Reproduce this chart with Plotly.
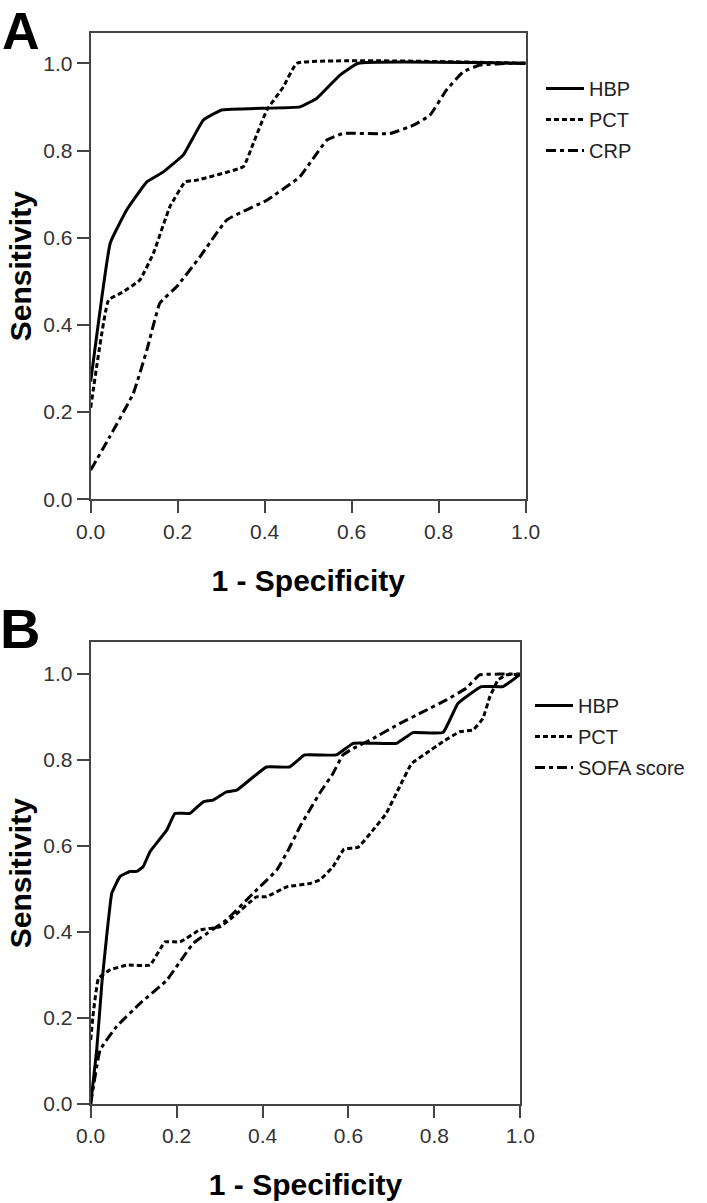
import plotly.graph_objects as go

W, H = 707, 1203

# ---------------- Panel A data ----------------
a_hbp_x = [0.0, 0.045, 0.083, 0.129, 0.167, 0.213, 0.259, 0.301, 0.481, 0.52, 0.573, 0.615, 1.0]
a_hbp_y = [0.27, 0.588, 0.664, 0.728, 0.751, 0.790, 0.870, 0.893, 0.900, 0.92, 0.973, 1.0, 1.0]

a_pct_x = [0.0, 0.041, 0.075, 0.113, 0.144, 0.182, 0.217, 0.244, 0.351, 0.374, 0.405, 0.443, 0.474, 1.0]
a_pct_y = [0.21, 0.457, 0.476, 0.503, 0.564, 0.671, 0.728, 0.732, 0.763, 0.817, 0.893, 0.946, 1.0, 1.0]

a_crp_x = [0.0, 0.044, 0.098, 0.129, 0.159, 0.198, 0.251, 0.313, 0.405, 0.481, 0.543, 0.58, 0.688, 0.742, 0.78, 0.818, 0.857, 0.895, 0.97, 1.0]
a_crp_y = [0.067, 0.144, 0.243, 0.342, 0.45, 0.488, 0.556, 0.641, 0.686, 0.74, 0.824, 0.839, 0.839, 0.858, 0.881, 0.939, 0.981, 0.996, 1.0, 1.0]

# ---------------- Panel B data ----------------
b_hbp_x = [0.0, 0.014, 0.026, 0.037, 0.049, 0.068, 0.091, 0.107, 0.122, 0.138, 0.177, 0.196, 0.231, 0.262,
           0.285, 0.316, 0.34, 0.409, 0.463, 0.498, 0.572, 0.611, 0.712, 0.75, 0.82, 0.855, 0.909, 0.96, 1.0]
b_hbp_y = [0.0, 0.126, 0.281, 0.389, 0.49, 0.529, 0.541, 0.541, 0.552, 0.587, 0.637, 0.676, 0.676, 0.703,
           0.707, 0.726, 0.73, 0.784, 0.784, 0.812, 0.812, 0.839, 0.839, 0.864, 0.864, 0.932, 0.971, 0.971, 1.0]

b_pct_x = [0.0, 0.006, 0.018, 0.045, 0.084, 0.138, 0.173, 0.208, 0.254, 0.301, 0.332, 0.386, 0.409, 0.456,
           0.51, 0.533, 0.564, 0.59, 0.622, 0.657, 0.688, 0.719, 0.747, 0.781, 0.82, 0.859, 0.89, 0.913,
           0.929, 0.948, 0.967, 1.0]
b_pct_y = [0.149, 0.211, 0.292, 0.312, 0.323, 0.323, 0.377, 0.377, 0.405, 0.412, 0.436, 0.482, 0.482, 0.505,
           0.513, 0.521, 0.552, 0.593, 0.597, 0.637, 0.676, 0.738, 0.792, 0.816, 0.843, 0.866, 0.87, 0.897,
           0.947, 0.986, 0.998, 1.0]

b_sofa_x = [0.0, 0.022, 0.06, 0.115, 0.177, 0.239, 0.316, 0.378, 0.433, 0.46, 0.487, 0.533, 0.564, 0.587,
            0.611, 0.657, 0.719, 0.773, 0.828, 0.874, 0.905, 0.952, 1.0]
b_sofa_y = [0.0, 0.126, 0.18, 0.234, 0.288, 0.374, 0.428, 0.49, 0.544, 0.591, 0.645, 0.723, 0.769, 0.812,
            0.827, 0.85, 0.885, 0.912, 0.94, 0.967, 0.998, 1.0, 1.0]

tick_vals = [0.0, 0.2, 0.4, 0.6, 0.8, 1.0]
tick_text = ["0.0", "0.2", "0.4", "0.6", "0.8", "1.0"]

DOT = "5px,3px"
DASHDOT = "10px,4px,4px,4px"

fig = go.Figure()

def add(x, y, name, dash, xa, ya, leg, grp):
    fig.add_trace(go.Scatter(x=x, y=y, mode="lines", name=name, legendgroup=grp, hoverinfo="skip",
                             line=dict(color="black", width=3, dash=dash, shape="spline", smoothing=0.3),
                             xaxis=xa, yaxis=ya, legend=leg))

add(a_hbp_x, a_hbp_y, "HBP", "solid", "x", "y", "legend", "a1")
add(a_pct_x, a_pct_y, "PCT", DOT, "x", "y", "legend", "a2")
add(a_crp_x, a_crp_y, "CRP", DASHDOT, "x", "y", "legend", "a3")
add(b_hbp_x, b_hbp_y, "HBP", "solid", "x2", "y2", "legend2", "b1")
add(b_pct_x, b_pct_y, "PCT", DOT, "x2", "y2", "legend2", "b2")
add(b_sofa_x, b_sofa_y, "SOFA score", DASHDOT, "x2", "y2", "legend2", "b3")

FONT = "Liberation Sans, Arial, sans-serif"
axis_common = dict(showline=True, mirror=True, linecolor="#444", linewidth=2,
                   ticks="outside", ticklen=12, tickwidth=2, tickcolor="#444",
                   showgrid=False, zeroline=False, automargin=False,
                   tickvals=tick_vals, ticktext=tick_text,
                   tickfont=dict(family=FONT, size=21, color="#333"))
title_font = dict(family=FONT, size=30, color="black")

def px2x(p):
    return p / W

def py2y(p):
    return 1 - p / H

fig.update_layout(
    width=W, height=H, margin=dict(l=0, r=0, t=0, b=0, autoexpand=False),
    paper_bgcolor="white", plot_bgcolor="white",
    font=dict(family=FONT),
    xaxis=dict(axis_common, domain=[px2x(90.7), px2x(525.7)], range=[0, 1], anchor="y",
               title=dict(text="<b>1 - Specificity</b>", font=title_font, standoff=28)),
    yaxis=dict(axis_common, domain=[py2y(499.3), py2y(33)], range=[0, 1.0695], anchor="x",
               title=dict(text="<b>Sensitivity</b>", font=title_font, standoff=3)),
    xaxis2=dict(axis_common, domain=[px2x(90.7), px2x(520.3)], range=[0, 1], anchor="y2",
                title=dict(text="<b>1 - Specificity</b>", font=title_font, standoff=28)),
    yaxis2=dict(axis_common, domain=[py2y(1104), py2y(642.3)], range=[0, 1.074], anchor="x2",
                title=dict(text="<b>Sensitivity</b>", font=title_font, standoff=3)),
    legend=dict(x=px2x(541), y=py2y(69), xanchor="left", yanchor="top",
                font=dict(family=FONT, size=20, color="#222"), itemwidth=38,
                bgcolor="rgba(0,0,0,0)", tracegroupgap=2),
    legend2=dict(x=px2x(530), y=py2y(686), xanchor="left", yanchor="top",
                 font=dict(family=FONT, size=20, color="#222"), itemwidth=38,
                 bgcolor="rgba(0,0,0,0)", tracegroupgap=2),
    showlegend=True,
    annotations=[
        dict(text="<b>A</b>", x=0, y=1, xref="paper", yref="paper", xanchor="left", yanchor="top",
             showarrow=False, font=dict(family=FONT, size=52, color="black")),
        dict(text="<b>B</b>", x=px2x(-2), y=py2y(595), xref="paper", yref="paper", xanchor="left", yanchor="top",
             showarrow=False, font=dict(family=FONT, size=56, color="black")),
    ],
)

fig.write_html("out.html", config={"displayModeBar": False},
               post_script="document.body.style.margin='0';")
